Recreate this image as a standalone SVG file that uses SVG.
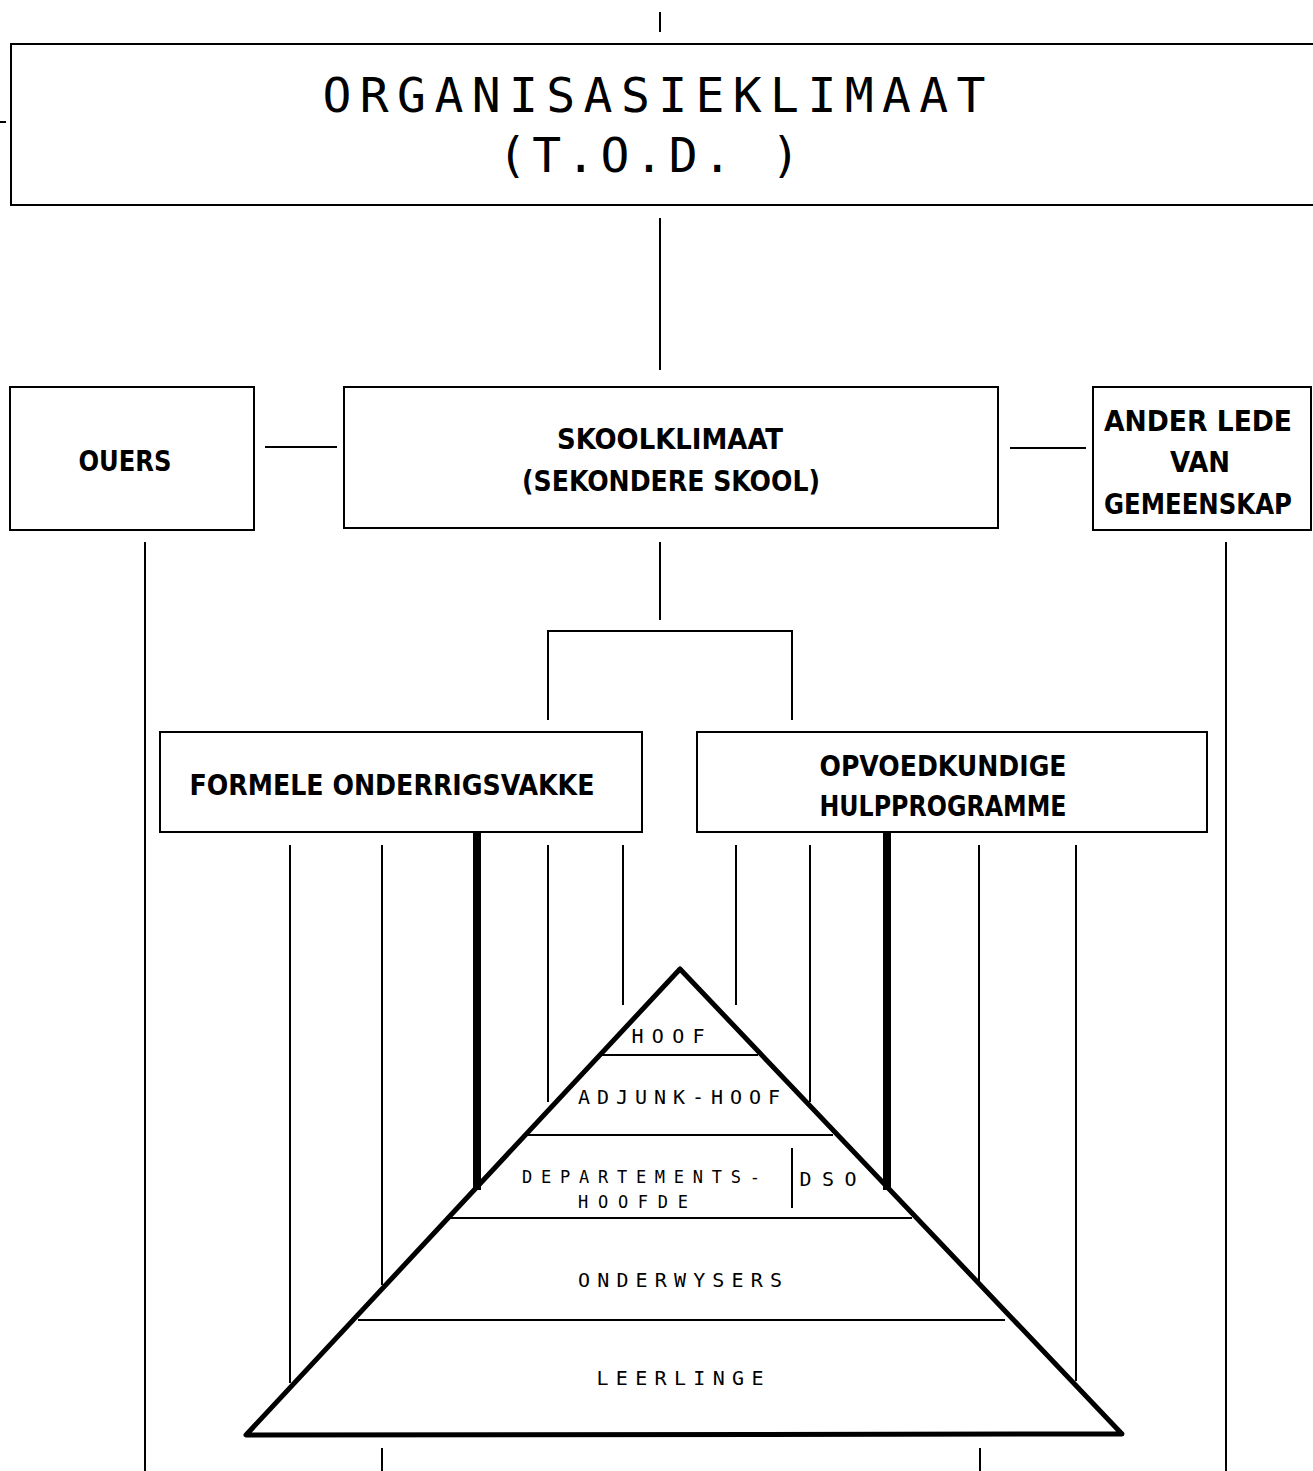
<svg xmlns="http://www.w3.org/2000/svg" width="1313" height="1471" viewBox="0 0 1313 1471">
<style>
.box{fill:none;stroke:#000;stroke-width:2}
.ln{stroke:#000;stroke-width:2;fill:none}
.thick{stroke:#000;stroke-width:8;fill:none}
.edge{stroke:#000;stroke-width:5;fill:none;stroke-linejoin:round;stroke-linecap:round}
.t1{font-family:"DejaVu Sans Mono","Liberation Mono",monospace;font-size:48px;fill:#000}
.t2{font-family:"DejaVu Sans Condensed","Liberation Sans",sans-serif;font-weight:bold;font-size:29px;fill:#000}
.t3{font-family:"DejaVu Sans Mono","Liberation Mono",monospace;font-size:20px;fill:#000}
.t4{font-family:"DejaVu Sans Mono","Liberation Mono",monospace;font-size:17px;fill:#000}
</style>
<rect width="1313" height="1471" fill="#fff"/>
<g id="connectors">
<line class="ln" x1="660" y1="12" x2="660" y2="32"/>
<line class="ln" x1="0" y1="122" x2="6" y2="122"/>
<line class="ln" x1="660" y1="218" x2="660" y2="370"/>
<line class="ln" x1="265" y1="447" x2="337" y2="447"/>
<line class="ln" x1="1010" y1="448" x2="1086" y2="448"/>
<line class="ln" x1="660" y1="542" x2="660" y2="620"/>
<polyline class="ln" points="548,720 548,631 792,631 792,720"/>
<line class="ln" x1="145" y1="542" x2="145" y2="1471"/>
<line class="ln" x1="1226" y1="542" x2="1226" y2="1471"/>
<line class="ln" x1="290" y1="845" x2="290" y2="1383"/>
<line class="ln" x1="382" y1="845" x2="382" y2="1285"/>
<line class="ln" x1="548" y1="845" x2="548" y2="1102"/>
<line class="ln" x1="623" y1="845" x2="623" y2="1005"/>
<line class="ln" x1="736" y1="845" x2="736" y2="1005"/>
<line class="ln" x1="810" y1="845" x2="810" y2="1102"/>
<line class="ln" x1="979" y1="845" x2="979" y2="1283"/>
<line class="ln" x1="1076" y1="845" x2="1076" y2="1381"/>
<line class="thick" x1="477" y1="833" x2="477" y2="1190"/>
<line class="thick" x1="887" y1="833" x2="887" y2="1190"/>
<line class="ln" x1="382" y1="1448" x2="382" y2="1471"/>
<line class="ln" x1="980" y1="1448" x2="980" y2="1471"/>
</g>
<g id="organisasieklimaat">
<rect class="box" x="11" y="44" width="1310" height="161"/>
<text class="t1" x="654" y="112" text-anchor="middle" textLength="663" lengthAdjust="spacing">ORGANISASIEKLIMAAT</text>
<text class="t1" x="649" y="172" text-anchor="middle" textLength="302" lengthAdjust="spacing">(T.O.D. )</text>
</g>
<g id="ouers">
<rect class="box" x="10" y="387" width="244" height="143"/>
<text class="t2" x="125" y="471" text-anchor="middle" textLength="93" lengthAdjust="spacingAndGlyphs">OUERS</text>
</g>
<g id="skoolklimaat">
<rect class="box" x="344" y="387" width="654" height="141"/>
<text class="t2" x="670" y="449" text-anchor="middle" textLength="226" lengthAdjust="spacingAndGlyphs">SKOOLKLIMAAT</text>
<text class="t2" x="671" y="491" text-anchor="middle" textLength="298" lengthAdjust="spacingAndGlyphs">(SEKONDERE SKOOL)</text>
</g>
<g id="ander-lede">
<rect class="box" x="1093" y="387" width="218" height="143"/>
<text class="t2" x="1198" y="431" text-anchor="middle" textLength="188" lengthAdjust="spacingAndGlyphs">ANDER LEDE</text>
<text class="t2" x="1200" y="472" text-anchor="middle" textLength="60" lengthAdjust="spacingAndGlyphs">VAN</text>
<text class="t2" x="1198" y="514" text-anchor="middle" textLength="188" lengthAdjust="spacingAndGlyphs">GEMEENSKAP</text>
</g>
<g id="formele">
<rect class="box" x="160" y="732" width="482" height="100"/>
<text class="t2" x="392" y="795" text-anchor="middle" textLength="405" lengthAdjust="spacingAndGlyphs">FORMELE ONDERRIGSVAKKE</text>
</g>
<g id="opvoedkundige">
<rect class="box" x="697" y="732" width="510" height="100"/>
<text class="t2" x="943" y="776" text-anchor="middle" textLength="247" lengthAdjust="spacingAndGlyphs">OPVOEDKUNDIGE</text>
<text class="t2" x="943" y="816" text-anchor="middle" textLength="247" lengthAdjust="spacingAndGlyphs">HULPPROGRAMME</text>
</g>
<g id="pyramid">
<line class="ln" x1="602" y1="1055" x2="758" y2="1055"/>
<line class="ln" x1="525" y1="1135" x2="833" y2="1135"/>
<line class="ln" x1="448" y1="1218" x2="912" y2="1218"/>
<line class="ln" x1="358" y1="1320" x2="1005" y2="1320"/>
<line class="ln" x1="792" y1="1148" x2="792" y2="1208"/>
<polygon class="edge" points="680,969 246,1435 1122,1434"/>
<text class="t3" x="668" y="1043" text-anchor="middle" textLength="73" lengthAdjust="spacing">HOOF</text>
<text class="t3" x="679" y="1104" text-anchor="middle" textLength="202" lengthAdjust="spacing">ADJUNK-HOOF</text>
<text class="t4" x="641" y="1183" text-anchor="middle" textLength="238" lengthAdjust="spacing">DEPARTEMENTS-</text>
<text class="t4" x="633" y="1208" text-anchor="middle" textLength="110" lengthAdjust="spacing">HOOFDE</text>
<text class="t3" x="828" y="1186" text-anchor="middle" textLength="57" lengthAdjust="spacing">DSO</text>
<text class="t3" x="680" y="1287" text-anchor="middle" textLength="204" lengthAdjust="spacing">ONDERWYSERS</text>
<text class="t3" x="680" y="1385" text-anchor="middle" textLength="167" lengthAdjust="spacing">LEERLINGE</text>
</g>
</svg>
